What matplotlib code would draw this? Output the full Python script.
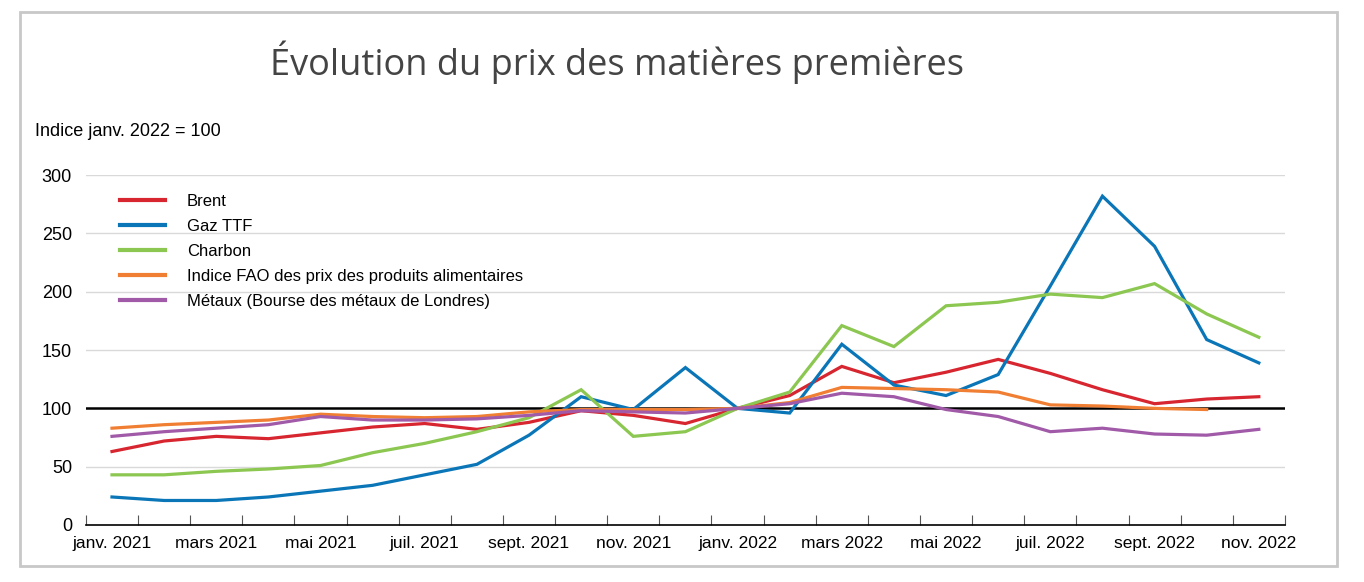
import numpy as np
import matplotlib
matplotlib.use("Agg")
import matplotlib.pyplot as plt
from matplotlib.patches import Rectangle

plt.rcParams["font.family"] = ["Liberation Sans", "DejaVu Sans"]

# mois (janv. 2021 -> nov. 2022)
mois = ["janv. 2021", "févr. 2021", "mars 2021", "avr. 2021", "mai 2021", "juin 2021",
        "juil. 2021", "août 2021", "sept. 2021", "oct. 2021", "nov. 2021", "déc. 2021",
        "janv. 2022", "févr. 2022", "mars 2022", "avr. 2022", "mai 2022", "juin 2022",
        "juil. 2022", "août 2022", "sept. 2022", "oct. 2022", "nov. 2022"]

brent = [63, 72, 76, 74, 79, 84, 87, 82, 88, 98, 94, 87, 100, 111, 136, 122, 131, 142,
         130, 116, 104, 108, 110]
gaz_ttf = [24, 21, 21, 24, 29, 34, 43, 52, 77, 110, 99, 135, 100, 96, 155, 120, 111, 129,
           205, 282, 239, 159, 139]
charbon = [43, 43, 46, 48, 51, 62, 70, 80, 92, 116, 76, 80, 100, 114, 171, 153, 188, 191,
           198, 195, 207, 181, 161]
fao = [83, 86, 88, 90, 95, 93, 92, 93, 97, 99, 99, 99, 100, 105, 118, 117, 116, 114,
       103, 102, 100, 99, np.nan]
metaux = [76, 80, 83, 86, 93, 90, 90, 91, 94, 98, 97, 96, 100, 104, 113, 110, 99, 93,
          80, 83, 78, 77, 82]

series = [
    ("Brent", brent, "#d7262f"),
    ("Gaz TTF", gaz_ttf, "#0a76b8"),
    ("Charbon", charbon, "#8cc751"),
    ("Indice FAO des prix des produits alimentaires", fao, "#f07f33"),
    ("Métaux (Bourse des métaux de Londres)", metaux, "#a05aa8"),
]

fig = plt.figure(figsize=(13.64, 5.82), dpi=100)
ax = fig.add_axes([0.063, 0.098, 0.879, 0.601])

x = np.arange(len(mois))
for nom, vals, couleur in series:
    ax.plot(x, vals, color=couleur, lw=2.3, label=nom, solid_joinstyle="miter")

# grille et ligne de référence
for yv in [50, 150, 200, 250, 300]:
    ax.axhline(yv, color="#d9d9d9", lw=1, zorder=0)
ax.axhline(100, color="black", lw=1.8, zorder=1)

ax.set_xlim(-0.5, len(mois) - 0.5)
ax.set_ylim(0, 300)
ax.set_yticks([0, 50, 100, 150, 200, 250, 300])
ax.tick_params(axis="y", length=0, pad=10, labelsize=13)

ax.set_xticks(x[::2])
ax.set_xticklabels(mois[::2])
ax.set_xticks(np.arange(-0.5, len(mois)), minor=True)
ax.tick_params(axis="x", which="major", length=0, labelsize=12.5, pad=8)
ax.tick_params(axis="x", which="minor", direction="in", length=7, width=0.8, color="#555555")

for s in ["top", "right", "left"]:
    ax.spines[s].set_visible(False)
ax.spines["bottom"].set_linewidth(1.2)

leg = fig.legend(loc="upper left", bbox_to_anchor=(0.088, 0.667), frameon=False,
                 fontsize=12, handlelength=2.7, handletextpad=1.3, labelspacing=0.6,
                 borderpad=0, borderaxespad=0)
for line in leg.get_lines():
    line.set_linewidth(3)

fig.text(0.452, 0.893, "Évolution du prix des matières premières", ha="center", va="center",
         fontsize=26, color="#444444", family=["Open Sans", "DejaVu Sans"])
fig.text(0.026, 0.774, "Indice janv. 2022 = 100", ha="left", va="center", fontsize=13)

fig.patches.append(Rectangle((0.015, 0.027), 0.965, 0.952, transform=fig.transFigure,
                             fill=False, edgecolor="#c8c8c8", lw=2))

fig.savefig("out.png", dpi=100)
